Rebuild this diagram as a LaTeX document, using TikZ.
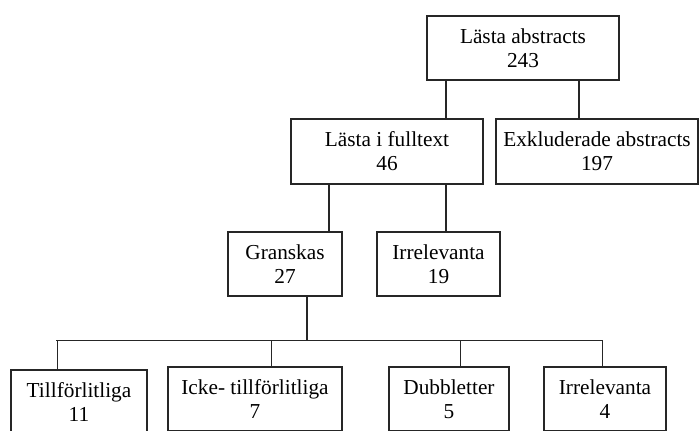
\documentclass[tikz,border=0pt]{standalone}
\usepackage{fontspec}
\setmainfont{Liberation Serif}
\begin{document}
\begin{tikzpicture}[x=1pt,y=-1pt,
  box/.style={draw=black!85, line width=1.3pt, rectangle, align=center, inner sep=0pt,
    font=\fontsize{21.3}{24}\selectfont, text=black},
  link/.style={draw=black!85, line width=1.3pt}]
\useasboundingbox (0,0) rectangle (699,431);
\clip (0,0) rectangle (699,431);
\node[box, minimum width=192pt, minimum height=64pt] (top) at (523,48) {Lästa abstracts\\243};
\node[box, minimum width=192pt, minimum height=65pt] (full) at (387,151.5) {Lästa i fulltext\\46};
\node[box, minimum width=202pt, minimum height=65pt] (exkl) at (597,151.5) {Exkluderade abstracts\\197};
\node[box, minimum width=114pt, minimum height=64pt] (gran) at (285,264) {Granskas\\27};
\node[box, minimum width=123pt, minimum height=64pt] (irr1) at (438.5,264) {Irrelevanta\\19};
\node[box, minimum width=136pt, minimum height=64pt] (till) at (79,402) {Tillförlitliga\\11};
\node[box, minimum width=174pt, minimum height=64pt] (icke) at (255,399) {Icke- tillförlitliga\\7};
\node[box, minimum width=120pt, minimum height=64pt] (dubb) at (449,399) {Dubbletter\\5};
\node[box, minimum width=122pt, minimum height=64pt] (irr2) at (605,399) {Irrelevanta\\4};
\coordinate (xa) at (446,0);
\coordinate (xb) at (579,0);
\coordinate (xc) at (329,0);
\coordinate (xd) at (307,0);
\coordinate (bus) at (307,340.5);
\coordinate (busl) at (56,340.5);
\coordinate (busr) at (603,340.5);
\coordinate (d1) at (57.7,0);
\coordinate (d2) at (271.7,0);
\coordinate (d3) at (460.7,0);
\coordinate (d4) at (602.7,0);
\draw[link] (top.south -| xa) -- (full.north -| xa);
\draw[link] (top.south -| xb) -- (exkl.north -| xb);
\draw[link] (full.south -| xc) -- (gran.north -| xc);
\draw[link] (full.south -| xa) -- (irr1.north -| xa);
\draw[link] (gran.south -| xd) -- (bus);
\draw[link] (busl) -- (busr);
\draw[link] (busl -| d1) -- (till.north -| d1);
\draw[link] (busl -| d2) -- (icke.north -| d2);
\draw[link] (busl -| d3) -- (dubb.north -| d3);
\draw[link] (busl -| d4) -- (irr2.north -| d4);
\end{tikzpicture}
\end{document}
